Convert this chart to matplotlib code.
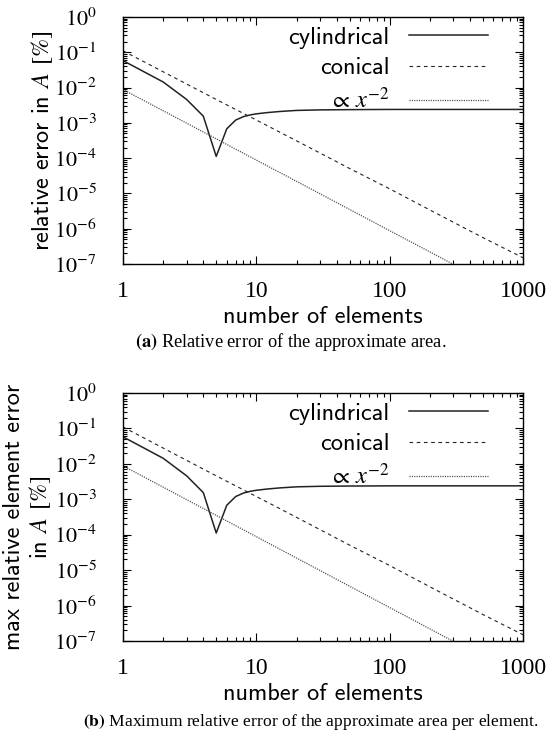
import numpy as np
import matplotlib
matplotlib.use("Agg")
import matplotlib.pyplot as plt
from matplotlib.ticker import LogLocator, NullFormatter, FixedLocator, FixedFormatter

plt.rcParams["mathtext.fontset"] = "stix"
plt.rcParams["lines.scale_dashes"] = False

# error data vs number of elements
n_cyl = [1, 2, 3, 4, 5, 6, 7, 8, 9, 10, 12, 15, 20, 30, 50, 100, 200, 500, 1000]
err_cyl = [5.8e-2, 1.44e-2, 4.6e-3, 1.55e-3, 1.12e-4, 6.8e-4, 1.2e-3, 1.5e-3, 1.68e-3,
           1.8e-3, 1.95e-3, 2.1e-3, 2.25e-3, 2.33e-3, 2.37e-3, 2.4e-3, 2.4e-3, 2.4e-3, 2.4e-3]

n_con = [1, 2, 5, 10, 20, 50, 100, 200, 500, 1000]
err_con = [0.11, 2.8e-2, 4.6e-3, 1.2e-3, 3.1e-4, 5.1e-5, 1.35e-5, 3.4e-6, 5.6e-7, 1.5e-7]

n_ref = [1, 3, 10, 30, 100, 300, 1000]
err_ref = [8.8e-3, 9.8e-4, 8.8e-5, 9.8e-6, 8.8e-7, 9.8e-8, 8.8e-9]

xticks = [1, 10, 100, 1000]
xtick_labels = ["1", "10", "100", "1000"]
yticks = [1e-7, 1e-6, 1e-5, 1e-4, 1e-3, 1e-2, 1e-1, 1e0]
ytick_labels = [r"$10^{-7}$", r"$10^{-6}$", r"$10^{-5}$", r"$10^{-4}$",
                r"$10^{-3}$", r"$10^{-2}$", r"$10^{-1}$", r"$10^{0}$"]

ylabels = [r"relative error in $A$ $[\%]$",
           "max relative element error\n" + r"in $A$ $[\%]$"]
captions = [r"$\mathbf{(a)}$ Relative error of the approximate area.",
            r"$\mathbf{(b)}$ Maximum relative error of the approximate area per element."]

sans = "cmss10"
serif = "Liberation Serif"

fig = plt.figure(figsize=(5.47, 7.42), dpi=100)
ax_a = fig.add_axes([0.2249, 0.6442, 0.7313, 0.3329])
ax_b = fig.add_axes([0.2249, 0.1361, 0.7313, 0.3342])

for i, ax in enumerate([ax_a, ax_b]):
    ax.plot(n_cyl, err_cyl, color="#222222", lw=1.1, label="cylindrical")
    ax.plot(n_con, err_con, color="#222222", lw=0.8, ls=(0, (2.6, 2.6)), label="conical")
    ax.plot(n_ref, err_ref, color="#444444", lw=0.9, ls=(0, (0.8, 0.9)), label=r"$\propto\, x^{-2}$")

    ax.set_xscale("log")
    ax.set_yscale("log")
    ax.set_xlim(1, 1000)
    ax.set_ylim(1e-7, 1)

    ax.xaxis.set_major_locator(FixedLocator(xticks))
    ax.xaxis.set_major_formatter(FixedFormatter(xtick_labels))
    ax.yaxis.set_major_locator(FixedLocator(yticks))
    ax.yaxis.set_major_formatter(FixedFormatter(ytick_labels))
    for axis in (ax.xaxis, ax.yaxis):
        axis.set_minor_locator(LogLocator(base=10, subs=np.arange(2, 10), numticks=100))
        axis.set_minor_formatter(NullFormatter())

    ax.tick_params(which="both", direction="in", top=True, right=True, width=0.8)
    ax.tick_params(which="major", length=6, labelfontfamily=serif)
    ax.tick_params(which="minor", length=3)
    ax.tick_params(axis="x", which="major", pad=12, labelsize=17)
    ax.tick_params(axis="y", which="major", pad=19, labelsize=16)
    for s in ax.spines.values():
        s.set_linewidth(1.0)

    ax.set_xlabel("number of elements", fontsize=17.5, family=sans)
    ax.xaxis.set_label_coords(0.5, -0.17)
    ax.set_ylabel(ylabels[i], fontsize=17.5, family=sans, linespacing=1.12)
    ax.yaxis.set_label_coords(-0.17 if i == 0 else -0.175, 0.5)

    ax.legend(loc="upper right", bbox_to_anchor=(0.9125, 0.96), frameon=False,
              markerfirst=False, handlelength=3.25, handletextpad=0.8,
              borderpad=0, borderaxespad=0, labelspacing=0.34,
              prop={"family": sans, "size": 17.5})

fig.text(291 / 547, 1 - 342 / 742, captions[0], ha="center", va="center",
         family=serif, fontsize=13.2)
fig.text(311 / 547, 1 - 722 / 742, captions[1], ha="center", va="center",
         family=serif, fontsize=12.6)

fig.savefig("out.png", dpi=100)
